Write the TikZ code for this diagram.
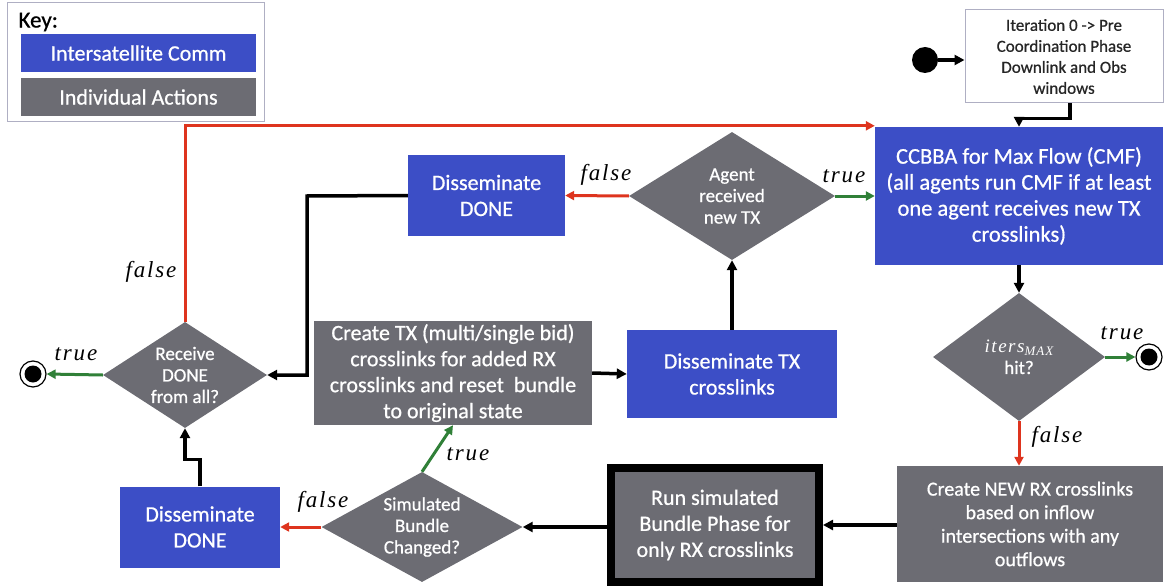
\documentclass[tikz,border=0pt]{standalone}
\usepackage{fontspec}
\setmainfont{Carlito}[FakeBold=0.7]
\newfontfamily\condfont[LetterSpace=8]{Liberation Serif}
\usetikzlibrary{shapes.geometric,arrows.meta}

\definecolor{commblue}{RGB}{60,78,198}
\definecolor{actgray}{RGB}{108,108,115}
\definecolor{falsered}{RGB}{222,52,30}
\definecolor{truegreen}{RGB}{48,128,56}
\definecolor{framegray}{RGB}{175,175,195}

\begin{document}
\begin{tikzpicture}[x=1pt,y=-1pt,
  box/.style={rectangle, inner sep=0, align=center, text=white},
  comm/.style={box, fill=commblue},
  act/.style={box, fill=actgray},
  decision/.style={diamond, fill=actgray, inner sep=0},
  dtext/.style={text=white, align=center, font=\fontsize{19}{21.5}\selectfont},
  big/.style={font=\fontsize{22}{26}\selectfont},
  flow/.style={line width=3.5, -{Triangle[length=10,width=10]}},
  yes/.style={line width=3, truegreen, -{Triangle[length=9,width=9]}},
  no/.style={line width=3, falsered, -{Triangle[length=9,width=9]}},
  cond/.style={font=\condfont\itshape\fontsize{23}{26}\selectfont},
  enddot/.style={circle, draw=black, line width=1.2, minimum size=26, inner sep=0,
    path picture={\fill[black] (path picture bounding box.center) circle (8.5);}}
]
\useasboundingbox (0,0) rectangle (1166,588);

% key
\draw[framegray, line width=1] (7,3) rectangle (264,122);
\node[anchor=west, font=\fontsize{23}{26}\selectfont] (keytitle) at (15,22) {Key:};
\node[comm, big, minimum width=235, minimum height=38] (keycomm) at (138.5,53) {Intersatellite Comm};
\node[act, big, minimum width=235, minimum height=38] (keyact) at (138.5,97) {Individual Actions};

% start and ends
\node[circle, fill=black, minimum size=26, inner sep=0] (start) at (925,60) {};
\node[enddot] (endR) at (1149,357) {};
\node[enddot] (endL) at (33,374) {};

% process boxes
\node[box, draw=framegray, line width=1, text=black!85, minimum width=198, minimum height=93,
  font=\fontsize{17}{21}\selectfont] (iter) at (1064,56.5)
  {Iteration 0 -> Pre\\Coordination Phase\\Downlink and Obs\\windows};
\node[comm, minimum width=288, minimum height=138, font=\fontsize{22.5}{26}\selectfont] (cmf) at (1019,196)
  {CCBBA for Max Flow (CMF)\\(all agents run CMF if at least\\one agent receives new TX\\crosslinks)};
\node[act, minimum width=266, minimum height=116, font=\fontsize{20}{23.5}\selectfont] (newrx) at (1030,524)
  {Create NEW RX crosslinks\\based on inflow\\intersections with any\\outflows};
\node[act, big, draw=black, line width=8, minimum width=208, minimum height=114] (run) at (715,525)
  {Run simulated\\Bundle Phase for\\only RX crosslinks};
\node[comm, big, minimum width=160, minimum height=81] (botdone) at (200,527) {Disseminate\\DONE};
\node[act, big, minimum width=278, minimum height=104] (createtx) at (453,373)
  {Create TX (multi/single bid)\\crosslinks for added RX\\crosslinks and reset\ \ bundle\\to original state};
\node[comm, big, minimum width=210, minimum height=88] (disstx) at (732,374) {Disseminate TX\\crosslinks};
\node[comm, big, minimum width=157, minimum height=81] (topdone) at (486.5,195.5) {Disseminate\\DONE};

% decisions
\node[decision, minimum width=172, minimum height=128,
  label={[dtext]center:{\condfont\itshape iters\raisebox{-3pt}{\fontsize{13}{13}\selectfont MAX}}\\hit?}] (iters) at (1019,357) {};
\node[decision, minimum width=201, minimum height=110,
  label={[dtext]center:Simulated\\Bundle\\Changed?}] (sim) at (422,527) {};
\node[decision, minimum width=206, minimum height=128,
  label={[dtext]center:Agent\\received\\new TX}] (agent) at (732,196) {};
\node[decision, minimum width=164, minimum height=106,
  label={[dtext]center:Receive\\DONE\\from all?}] (receive) at (185,375) {};

% connectors
\draw[flow] (start.east) -- (iter.west |- start);
\draw[flow] ([xshift=6]iter.south) -- ++(0,15) -| (cmf.north);
\draw[flow] (cmf.south) -- (iters.north);
\draw[yes] (iters.east) -- (endR.west);
\draw[no] (iters.south) -- (newrx.north -| iters.south);
\draw[flow] (newrx.west |- run.east) -- (run.east);
\draw[flow] (run.west |- sim.east) -- (sim.east);
\draw[no] (sim.west) -- (botdone.east);
\draw[yes] (sim.north) -- (createtx.south);
\draw[flow] (createtx.east) -- (disstx.west);
\draw[flow] (disstx.north) -- (agent.south);
\draw[no] (agent.west) -- (topdone.east);
\draw[yes] (agent.east) -- (cmf.west |- agent);
\coordinate (bend) at (307,196);
\draw[flow] (topdone.west) -- (bend) |- (receive.east);
\draw[flow] (botdone.north) -- ++(0,-27) -| (receive.south);
\draw[yes] (receive.west) -- (endL.east);
\draw[no] (receive.north) |- ([yshift=1]cmf.north west);

% branch labels
\node[cond] (lt1) at (1122,333) {true};
\node[cond] (lf1) at (1057,437) {false};
\node[cond] (lf2) at (323,502) {false};
\node[cond] (lt2) at (468,454) {true};
\node[cond] (lf3) at (606,175) {false};
\node[cond] (lt3) at (844,176) {true};
\node[cond] (lt4) at (76,354) {true};
\node[cond] (lf4) at (151,272) {false};
\end{tikzpicture}
\end{document}
